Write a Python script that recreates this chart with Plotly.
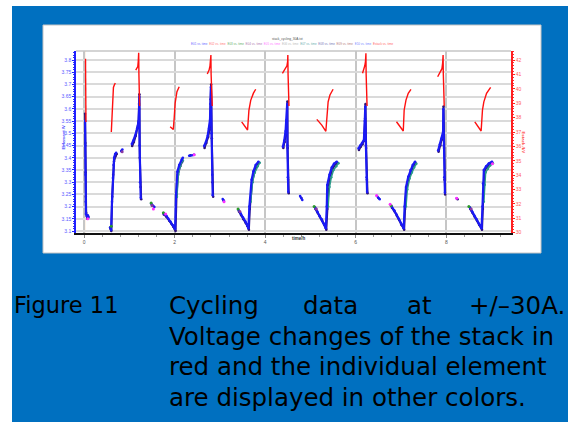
import plotly.graph_objects as go

# ---------------- data ----------------
# element cells (V) – main blue series, segments separated by None
blue_t = [0.02, 0.025, 0.03, 0.035, 0.04, 0.06, 0.08, 0.095, None,
          0.574, 0.596, 0.615, 0.634, 0.65, 0.662, 0.685, 0.706, None,
          0.82, 0.845, None,
          1.053, 1.09, 1.126, 1.17, 1.20, 1.214, 1.218, 1.225, 1.235, 1.25, None,
          1.479, 1.552, None,
          1.75, 1.81, 1.86, 1.91, 1.96, 1.99, 2.01, 2.03, 2.06, 2.10, 2.157, 2.18, None,
          2.32, 2.43, None,
          2.65, 2.69, 2.73, 2.76, 2.78, 2.79, 2.80, 2.815, 2.83, 2.84, None,
          3.06, 3.09, None,
          3.41, 3.46, 3.51, 3.56, 3.60, 3.63, 3.65, 3.70, 3.74, 3.79, 3.85, None,
          4.39, 4.42, 4.45, 4.47, 4.485, 4.49, 4.50, 4.51, None,
          4.77, 4.82, None,
          5.10, 5.15, 5.20, 5.25, 5.30, 5.34, 5.36, 5.37, 5.42, 5.47, 5.52, 5.58, None,
          6.06, 6.10, 6.14, 6.18, 6.20, 6.21, 6.225, 6.24, 6.25, None,
          6.47, 6.53, None,
          6.79, 6.85, 6.90, 6.95, 7.00, 7.06, 7.08, 7.11, 7.16, 7.21, 7.26, 7.31, None,
          7.82, 7.86, 7.90, 7.93, 7.935, 7.945, 7.955, 7.97, None,
          8.23, None,
          8.52, 8.57, 8.62, 8.67, 8.72, 8.78, 8.80, 8.81, 8.83, 8.88, 8.94, 9.01]
blue_v = [3.55, 3.45, 3.33, 3.22, 3.17, 3.16, 3.165, 3.155, None,
          3.116, 3.104, 3.22, 3.317, 3.37, 3.40, 3.415, 3.42, None,
          3.427, 3.434, None,
          3.456, 3.47, 3.49, 3.52, 3.545, 3.60, 3.65, 3.45, 3.30, 3.235, None,
          3.213, 3.198, None,
          3.173, 3.165, 3.15, 3.138, 3.124, 3.115, 3.108, 3.25, 3.343, 3.37, 3.393, 3.40, None,
          3.408, 3.412, None,
          3.448, 3.465, 3.49, 3.52, 3.555, 3.62, 3.69, 3.50, 3.33, 3.247, None,
          3.231, 3.223, None,
          3.186, 3.172, 3.155, 3.14, 3.125, 3.111, 3.20, 3.31, 3.345, 3.37, 3.384, None,
          3.445, 3.47, 3.51, 3.555, 3.62, 3.45, 3.32, 3.26, None,
          3.243, 3.227, None,
          3.197, 3.18, 3.163, 3.148, 3.13, 3.111, 3.20, 3.288, 3.33, 3.36, 3.375, 3.384, None,
          3.438, 3.45, 3.46, 3.472, 3.55, 3.61, 3.45, 3.32, 3.26, None,
          3.243, 3.23, None,
          3.202, 3.185, 3.168, 3.15, 3.13, 3.111, 3.20, 3.28, 3.322, 3.35, 3.37, 3.384, None,
          3.43, 3.455, 3.48, 3.506, 3.60, 3.45, 3.32, 3.257, None,
          3.234, None,
          3.197, 3.18, 3.163, 3.148, 3.13, 3.111, 3.20, 3.295, 3.35, 3.365, 3.377, 3.384]

# second (dark) element series
navy_t = [0.02, 0.026, 0.032, 0.038, 0.045, 0.07, 0.09, None,
          0.58, 0.60, 0.62, 0.64, 0.66, 0.69, 0.72, None,
          0.83, None,
          1.06, 1.10, 1.14, 1.18, 1.205, 1.212, 1.22, 1.23, 1.245, 1.26, None,
          1.50, None,
          1.76, 1.82, 1.88, 1.93, 1.97, 2.00, 2.02, 2.04, 2.07, 2.12, 2.17, None,
          2.35, None,
          2.66, 2.70, 2.74, 2.77, 2.785, 2.795, 2.805, 2.82, 2.835, 2.85, None,
          3.08, None,
          3.42, 3.47, 3.52, 3.57, 3.61, 3.64, 3.66, 3.71, 3.76, 3.81, 3.86, None,
          4.40, 4.43, 4.46, 4.48, 4.49, 4.495, 4.505, 4.52, None,
          4.80, None,
          5.11, 5.16, 5.21, 5.26, 5.31, 5.35, 5.37, 5.40, 5.44, 5.49, 5.54, 5.60, None,
          6.07, 6.11, 6.15, 6.185, 6.205, 6.215, 6.23, 6.245, 6.26, None,
          6.50, None,
          6.80, 6.86, 6.91, 6.96, 7.01, 7.07, 7.09, 7.12, 7.17, 7.22, 7.27, 7.32, None,
          7.83, 7.87, 7.905, 7.935, 7.94, 7.95, 7.96, 7.975, None,
          8.25, None,
          8.53, 8.58, 8.63, 8.68, 8.73, 8.79, 8.81, 8.82, 8.84, 8.89, 8.95, 9.02]
navy_v = [3.58, 3.46, 3.34, 3.24, 3.175, 3.15, 3.16, None,
          3.11, 3.10, 3.24, 3.33, 3.385, 3.405, 3.415, None,
          3.43, None,
          3.448, 3.465, 3.49, 3.52, 3.55, 3.62, 3.66, 3.40, 3.28, 3.23, None,
          3.205, None,
          3.168, 3.158, 3.142, 3.13, 3.118, 3.108, 3.10, 3.24, 3.33, 3.365, 3.385, None,
          3.41, None,
          3.44, 3.46, 3.485, 3.515, 3.55, 3.64, 3.70, 3.48, 3.30, 3.24, None,
          3.225, None,
          3.18, 3.165, 3.148, 3.133, 3.12, 3.105, 3.19, 3.30, 3.34, 3.365, 3.38, None,
          3.44, 3.465, 3.50, 3.55, 3.63, 3.44, 3.31, 3.255, None,
          3.235, None,
          3.19, 3.175, 3.158, 3.142, 3.125, 3.105, 3.19, 3.28, 3.325, 3.355, 3.37, 3.38, None,
          3.432, 3.445, 3.455, 3.47, 3.56, 3.62, 3.44, 3.31, 3.255, None,
          3.235, None,
          3.195, 3.18, 3.162, 3.145, 3.125, 3.105, 3.19, 3.275, 3.318, 3.345, 3.365, 3.38, None,
          3.425, 3.45, 3.475, 3.50, 3.61, 3.44, 3.31, 3.25, None,
          3.23, None,
          3.19, 3.175, 3.158, 3.142, 3.125, 3.105, 3.19, 3.29, 3.345, 3.36, 3.372, 3.38]

# teal element series (visible on the right edge of the charge curves)
teal_t = [2.05, 2.08, 2.12, 2.18, None,
          3.68, 3.72, 3.77, 3.83, 3.88, None,
          5.39, 5.42, 5.46, 5.51, 5.57, 5.62, None,
          7.11, 7.14, 7.19, 7.24, 7.29, 7.34, None,
          8.83, 8.85, 8.87, 8.92, 8.97, 9.03]
teal_v = [3.24, 3.33, 3.365, 3.39, None,
          3.22, 3.30, 3.34, 3.365, 3.38, None,
          3.20, 3.28, 3.32, 3.35, 3.365, 3.378, None,
          3.20, 3.27, 3.315, 3.34, 3.36, 3.375, None,
          3.22, 3.29, 3.34, 3.355, 3.368, 3.378]

# scattered single readings of other cells
green_t = [1.48, 1.75, 3.40, 5.08, 6.78, 8.50, 0.60]
green_v = [3.215, 3.175, 3.19, 3.20, 3.205, 3.20, 3.12]
magenta_t = [0.08, 1.80, 2.43, 6.46, 6.76, 8.23, 9.02, 1.53, 3.09]
magenta_v = [3.15, 3.17, 3.412, 3.245, 3.21, 3.234, 3.375, 3.19, 3.22]
purple_t = [0.84, 1.50, 3.44, 5.13, 8.55]
purple_v = [3.425, 3.205, 3.18, 3.19, 3.19]

# stack voltage (kV, right axis)
stack_t = [0.03, 0.033, 0.036, 0.04, None,
           0.60, 0.605, 0.615, 0.625, 0.647, 0.67, 0.69, None,
           1.14, 1.165, 1.185, 1.195, 1.205, 1.21, 1.215, 1.225, None,
           1.90, 1.94, 1.97, 1.99, 2.01, 2.05, 2.10, None,
           2.72, 2.76, 2.78, 2.79, 2.80, 2.805, 2.815, 2.83, None,
           3.48, 3.55, 3.61, 3.64, 3.68, 3.74, 3.79, None,
           4.38, 4.45, 4.48, 4.495, 4.50, 4.505, 4.515, 4.525, None,
           5.14, 5.25, 5.34, 5.37, 5.39, 5.43, 5.50, None,
           6.15, 6.18, 6.20, 6.215, 6.225, 6.23, 6.24, 6.25, None,
           6.90, 7.01, 7.05, 7.07, 7.11, 7.16, 7.22, None,
           7.81, 7.88, 7.905, 7.92, 7.93, 7.935, 7.945, 7.955, None,
           8.63, 8.74, 8.77, 8.80, 8.83, 8.89, 8.98]
stack_v = [42.1, 40.5, 39.0, 37.7, None,
           37.0, 37.3, 38.2, 39.0, 40.1, 40.3, 40.4, None,
           41.3, 41.45, 41.55, 41.9, 42.5, 41.0, 39.5, 38.8, None,
           37.37, 37.25, 37.18, 38.0, 39.0, 39.8, 40.15, None,
           41.03, 41.3, 41.6, 41.9, 42.35, 41.0, 39.5, 38.8, None,
           37.7, 37.4, 37.14, 38.5, 39.2, 39.7, 39.97, None,
           41.08, 41.4, 41.6, 41.9, 42.35, 41.0, 39.5, 38.8, None,
           37.88, 37.48, 37.05, 38.53, 39.1, 39.57, 39.97, None,
           41.08, 41.35, 41.6, 41.9, 42.47, 41.0, 39.5, 38.8, None,
           37.71, 37.25, 37.07, 38.53, 39.22, 39.69, 39.97, None,
           40.84, 41.19, 41.4, 41.8, 42.35, 41.0, 39.5, 38.8, None,
           37.71, 37.25, 37.07, 38.53, 39.1, 39.69, 40.1]

x_ticks = [0, 2, 4, 6, 8]
left_ticks = [3.1, 3.15, 3.2, 3.25, 3.3, 3.35, 3.4, 3.45, 3.5, 3.55, 3.6, 3.65, 3.7, 3.75, 3.8]
right_ticks = list(range(30, 43))

legend_names = ["E01 vs. time", "E02 vs. time", "E03 vs. time", "E04 vs. time",
                "E05 vs. time", "E06 vs. time", "E07 vs. time", "E08 vs. time",
                "E09 vs. time", "E10 vs. time", "Estack vs. time"]
legend_colors = ["#6a6aff", "#ff7a7a", "#6ab06a", "#b07ab0", "#ff7aff", "#bdbdbd",
                 "#6ab0b0", "#7a7ab8", "#b88080", "#7a8aff", "#ff6a6a"]

caption_head = "Figure 11"
caption_line1 = ["Cycling", "data", "at", "+/\u201330A."]
caption_rest = ["Voltage changes of the stack in",
                "red and the individual element",
                "are displayed in other colors."]

# ---------------- layout helpers ----------------
W, H = 568, 425
PL, PR, PT, PB = 76, 511, 51, 233


def xp(px):
    return (px - PL) / (PR - PL)


def yp(py):
    return (PB - py) / (PB - PT)


fig = go.Figure()

fig.add_trace(go.Scatter(x=navy_t, y=navy_v, mode="lines+markers",
                         line=dict(color="#2e1478", width=2),
                         marker=dict(color="#2e1478", size=2.5), yaxis="y"))
fig.add_trace(go.Scatter(x=teal_t, y=teal_v, mode="lines+markers",
                         line=dict(color="#2a9a8a", width=1.5),
                         marker=dict(color="#2a9a8a", size=2.5), yaxis="y"))
fig.add_trace(go.Scatter(x=blue_t, y=blue_v, mode="lines+markers",
                         line=dict(color="#1a1af5", width=2.2),
                         marker=dict(color="#1a1af5", size=2.5), yaxis="y"))
fig.add_trace(go.Scatter(x=green_t, y=green_v, mode="markers",
                         marker=dict(color="#2a9a2a", size=3), yaxis="y"))
fig.add_trace(go.Scatter(x=purple_t, y=purple_v, mode="markers",
                         marker=dict(color="#8a3aa0", size=3), yaxis="y"))
fig.add_trace(go.Scatter(x=magenta_t, y=magenta_v, mode="markers",
                         marker=dict(color="#ff30ff", size=3), yaxis="y"))
fig.add_trace(go.Scatter(x=stack_t, y=stack_v, mode="lines",
                         line=dict(color="#ff1010", width=1.4), yaxis="y2"))

shapes = [
    # blue frame (page is white outside it)
    dict(type="rect", xref="paper", yref="paper", x0=xp(12), x1=xp(W + 2), y0=yp(6), y1=yp(422),
         fillcolor="#0070C0", line=dict(width=0), layer="below"),
    # white chart panel
    dict(type="rect", xref="paper", yref="paper", x0=xp(43), x1=xp(541), y0=yp(25), y1=yp(253),
         fillcolor="white", line=dict(color="#c4c4c4", width=1), layer="below"),
    # top frame line of the plot
    dict(type="line", xref="paper", yref="paper", x0=0, x1=1, y0=1, y1=1,
         line=dict(color="#d4d4d4", width=2), layer="below"),
    # orange marker line at t = 0
    dict(type="line", xref="x", yref="paper", x0=0, x1=0, y0=0, y1=1,
         line=dict(color="#f2ad6a", width=2), layer="between"),
]

annotations = []
# tiny title and legend row
annotations.append(dict(text="stack_cycling_30A.txt", x=xp(287), y=yp(34.5), xref="paper", yref="paper",
                        showarrow=False, font=dict(size=3.2, color="#555555", family="Liberation Sans")))
legend_html = "&nbsp;&nbsp;".join(
    f"<span style='color:{c}'>{n}</span>" for n, c in zip(legend_names, legend_colors))
annotations.append(dict(text=legend_html, x=xp(292), y=yp(39.7), xref="paper", yref="paper",
                        showarrow=False, font=dict(size=3.0, family="Liberation Sans")))
# axis titles
annotations.append(dict(text="<b>Eelement /V</b>", x=xp(58), y=yp(138), xref="paper", yref="paper",
                        textangle=-90, showarrow=False,
                        font=dict(size=4.3, color="#4a4aff", family="Liberation Sans")))
annotations.append(dict(text="<b>Estack /kV</b>", x=xp(528), y=yp(142), xref="paper", yref="paper",
                        textangle=90, showarrow=False,
                        font=dict(size=4.3, color="#ff4a4a", family="Liberation Sans")))
annotations.append(dict(text="<b>time/h</b>", x=xp(299), y=yp(243), xref="paper", yref="paper",
                        showarrow=False, font=dict(size=4.5, color="#333333", family="Liberation Sans")))

# caption
HEAD_FONT = dict(size=22.5, color="#000000", family="DejaVu Sans")
CAP_FONT = dict(size=24.5, color="#000000", family="DejaVu Sans")
line_centers = [305, 336, 366, 397]
annotations.append(dict(text=caption_head, x=xp(12), y=yp(line_centers[0]), xref="paper", yref="paper",
                        xanchor="left", yanchor="middle", showarrow=False, font=HEAD_FONT))
word_left = [166.7, 301, 405, 466.7]
for w, lx in zip(caption_line1, word_left):
    annotations.append(dict(text=w, x=xp(lx), y=yp(line_centers[0]), xref="paper", yref="paper",
                            xanchor="left", yanchor="middle", showarrow=False, font=CAP_FONT))
for txt, cy in zip(caption_rest, line_centers[1:]):
    annotations.append(dict(text=txt, x=xp(166.7), y=yp(cy), xref="paper", yref="paper",
                            xanchor="left", yanchor="middle", showarrow=False, font=CAP_FONT))

tick_font = dict(size=5, family="Liberation Sans")

fig.update_layout(
    width=W, height=H,
    margin=dict(l=PL, r=W - PR, t=PT, b=H - PB, pad=0),
    paper_bgcolor="white", plot_bgcolor="rgba(0,0,0,0)",
    showlegend=False,
    shapes=shapes, annotations=annotations,
    xaxis=dict(range=[-0.18, 9.43], tickvals=x_ticks, ticktext=[str(v) for v in x_ticks],
               showgrid=True, gridcolor="#c6c6c6", gridwidth=1.5, zeroline=False,
               showline=True, linecolor="#111111", linewidth=1.5,
               ticks="outside", ticklen=3, tickcolor="#888888", tickwidth=1,
               minor=dict(dtick=0.4, tick0=0, ticklen=2, tickcolor="#999999", showgrid=False, ticks="outside"),
               tickfont=dict(color="#555555", **tick_font)),
    yaxis=dict(range=[3.092, 3.837], tickvals=left_ticks, ticktext=[f"{v:g}" for v in left_ticks],
               showgrid=True, gridcolor="#dadada", gridwidth=2, zeroline=False,
               showline=True, linecolor="#2020ff", linewidth=1.5,
               ticks="outside", ticklen=2, tickcolor="#2020ff", tickwidth=1,
               minor=dict(dtick=0.01, tick0=3.1, ticklen=1.5, tickcolor="#3030ff", showgrid=False, ticks="outside"),
               tickfont=dict(color="#5a5aff", **tick_font)),
    yaxis2=dict(range=[29.98, 42.63], overlaying="y", side="right",
                tickvals=right_ticks, ticktext=[str(v) for v in right_ticks],
                showgrid=False, zeroline=False,
                showline=True, linecolor="#ff2020", linewidth=1.5,
                ticks="outside", ticklen=2, tickcolor="#ff2020", tickwidth=1,
                minor=dict(dtick=0.2, tick0=30, ticklen=1.5, tickcolor="#ff3030", showgrid=False, ticks="outside"),
                tickfont=dict(color="#ff5a5a", **tick_font)),
)

fig.write_html("out.html", config={"displayModeBar": False},
               post_script="document.body.style.margin='0px';document.body.style.overflow='hidden';")
